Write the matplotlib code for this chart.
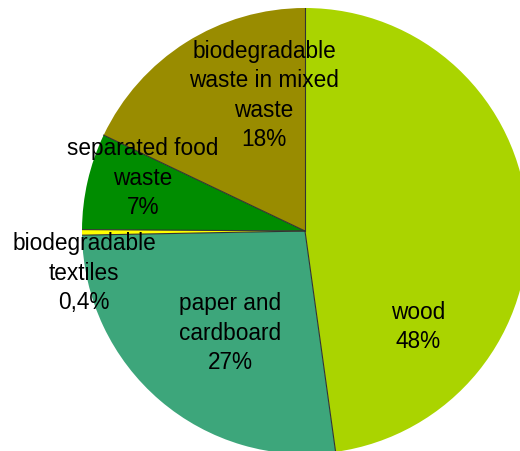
import numpy as np
import matplotlib
matplotlib.use('Agg')
import matplotlib.pyplot as plt

plt.rcParams['font.family'] = ['Liberation Sans', 'DejaVu Sans']

# 생분해성 폐기물 구성 (%)
labels = ['wood', 'paper and\ncardboard', 'biodegradable\ntextiles',
          'separated food\nwaste', 'biodegradable\nwaste in mixed\nwaste']
values = [48, 27, 0.4, 7, 18]
pct_text = ['48%', '27%', '0,4%', '7%', '18%']
colors = ['#AAD400', '#3DA67B', '#FFFF00', '#008C00', '#998C00']

# 라벨 위치 (반지름 1 기준 좌표)
label_pos = [(0.507, -0.425), (-0.336, -0.455), (-0.991, -0.186),
             (-0.726, 0.240), (-0.184, 0.612)]

fig = plt.figure(figsize=(5.2, 4.52), dpi=100)
ax = fig.add_axes([82 / 520, -3 / 452, 446 / 520, 446 / 452])

wedges, _ = ax.pie(values, colors=colors, startangle=90, counterclock=False,
                   radius=1, wedgeprops=dict(linewidth=0))

# 조각 경계선만 그림 (바깥 테두리는 없음)
frac = np.cumsum([0] + values) / sum(values)
for f in frac[:-1]:
    th = np.deg2rad(90 - 360 * f)
    ax.plot([0, np.cos(th)], [0, np.sin(th)], color='#333333', lw=0.8)

for (x, y), lab, p in zip(label_pos, labels, pct_text):
    ax.text(x, y, lab + '\n' + p, ha='center', va='center', fontsize=16.3,
            linespacing=1.36, color='black')

ax.set_xlim(-1, 1)
ax.set_ylim(-1, 1)
ax.axis('off')

fig.savefig('out.png', dpi=100)
